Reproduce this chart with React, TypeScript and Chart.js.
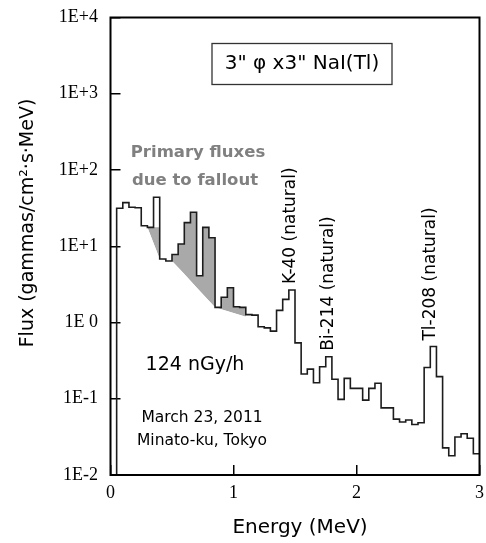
import { useEffect, useRef } from 'react';
import { Chart, registerables } from 'chart.js';

Chart.register(...registerables);

// Bin edges (MeV) of the measured spectrum
const energyEdges = [
  0.05, 0.1, 0.15, 0.2, 0.25, 0.3, 0.35, 0.4, 0.45, 0.5, 0.55, 0.6, 0.65, 0.7, 0.75, 0.8, 0.85, 0.9, 0.95, 1.0,
  1.05, 1.1, 1.15, 1.2, 1.25, 1.3, 1.35, 1.4, 1.45, 1.5, 1.55, 1.6, 1.65, 1.7, 1.75, 1.8, 1.85, 1.9, 1.95, 2.0,
  2.05, 2.1, 2.15, 2.2, 2.25, 2.3, 2.35, 2.4, 2.45, 2.5, 2.55, 2.6, 2.65, 2.7, 2.75, 2.8, 2.85, 2.9, 2.95, 3.0,
];

// Flux per bin (gammas/cm2·s·MeV)
const fluxValues = [
  31.5, 37.3, 32.4, 32.0, 18.6, 17.7, 43.9, 6.8, 6.4, 7.8,
  10.7, 20.4, 27.9, 4.1, 17.7, 12.9, 1.58, 2.14, 2.86, 1.61,
  1.58, 1.27, 1.25, 0.88, 0.85, 0.77, 1.44, 2.01, 2.67, 0.54,
  0.211, 0.245, 0.162, 0.263, 0.356, 0.18, 0.098, 0.185, 0.137, 0.137,
  0.096, 0.137, 0.16, 0.076, 0.076, 0.054, 0.0496, 0.0526, 0.046, 0.0485,
  0.257, 0.484, 0.195, 0.0227, 0.0179, 0.0315, 0.0348, 0.0303, 0.019,
];

// Upper edge of the shaded "primary fluxes due to fallout" region
const fallbackEdges = [0.3, 0.35, 0.4, 0.45, 0.5, 0.55, 0.6, 0.65, 0.7, 0.75, 0.8, 0.85, 0.9, 0.95, 1.0, 1.05, 1.1];
const fallbackTop = [17.7, 17.7, 6.8, 6.4, 7.8, 10.7, 20.4, 27.9, 4.1, 17.7, 12.9, 1.58, 2.14, 2.86, 1.61, 1.58];

// Lower edge (natural continuum) of the shaded region
const continuumEnergy = [0.3, 0.4, 0.5, 0.6, 0.7, 0.8, 0.85, 0.9, 1.0, 1.1];
const continuumFlux = [17.7, 6.8, 6.4, 4.31, 2.88, 1.93, 1.58, 1.49, 1.33, 1.19];

const yTickValues = [0.01, 0.1, 1, 10, 100, 1000, 10000];
const yTickLabels = ['1E-2', '1E-1', '1E 0', '1E+1', '1E+2', '1E+3', '1E+4'];
const xTickValues = [0, 1, 2, 3];
const xTickLabels = ['0', '1', '2', '3'];

const peakLabels = ['K-40 (natural)', 'Bi-214 (natural)', 'Tl-208 (natural)'];
const peakEnergies = [1.462, 1.775, 2.606];
const peakFlux = [2.67, 0.356, 0.484];

const SANS = '"DejaVu Sans", sans-serif';
const SERIF = '"Liberation Serif", serif';

function stepPoints(edges: number[], values: number[], base?: number) {
  const pts: { x: number; y: number }[] = [];
  if (base !== undefined) pts.push({ x: edges[0], y: base });
  values.forEach((v, i) => pts.push({ x: edges[i], y: v }));
  pts.push({ x: edges[edges.length - 1], y: values[values.length - 1] });
  return pts;
}

const annotationPlugin = {
  id: 'spectrumAnnotations',
  afterDraw(chart: any) {
    const { ctx, chartArea: a, scales } = chart;
    const xs = scales.x;
    const ys = scales.y;
    ctx.save();
    // plot frame
    ctx.strokeStyle = '#000';
    ctx.lineWidth = 2;
    ctx.strokeRect(a.left, a.top, a.right - a.left, a.bottom - a.top);

    // detector box
    ctx.strokeStyle = '#333';
    ctx.lineWidth = 1.3;
    ctx.strokeRect(212, 43.5, 180, 41);
    ctx.fillStyle = '#000';
    ctx.textAlign = 'center';
    ctx.textBaseline = 'middle';
    ctx.font = `20px ${SANS}`;
    ctx.fillText('3" \u03c6 x3" NaI(Tl)', 302, 64);

    // fallout caption
    ctx.fillStyle = '#808080';
    ctx.font = `bold 16.5px ${SANS}`;
    ctx.textBaseline = 'alphabetic';
    ctx.fillText('Primary fluxes', 198, 157);
    ctx.fillText('due to fallout', 195, 185);

    // dose rate & place
    ctx.fillStyle = '#000';
    ctx.textBaseline = 'middle';
    ctx.font = `19px ${SANS}`;
    ctx.fillText('124 nGy/h', 195, 365);
    ctx.font = `15.5px ${SANS}`;
    ctx.fillText('March 23, 2011', 202, 418);
    ctx.fillText('Minato-ku, Tokyo', 202, 441);

    // peak labels
    ctx.font = `17px ${SANS}`;
    ctx.textAlign = 'left';
    peakLabels.forEach((t, i) => {
      const px = xs.getPixelForValue(peakEnergies[i]);
      const py = ys.getPixelForValue(peakFlux[i]) - 6;
      ctx.save();
      ctx.translate(px, py);
      ctx.rotate(-Math.PI / 2);
      ctx.fillText(t, 0, 0);
      ctx.restore();
    });

    // axis titles
    ctx.textAlign = 'center';
    ctx.font = `20px ${SANS}`;
    ctx.fillText('Energy (MeV)', 300, 528);
    ctx.save();
    ctx.translate(28, 223);
    ctx.rotate(-Math.PI / 2);
    ctx.font = `19px ${SANS}`;
    ctx.fillText('Flux (gammas/cm\u00b2\u00b7s\u00b7MeV)', 0, 0);
    ctx.restore();

    ctx.restore();
  },
};

export default function App() {
  const ref = useRef<HTMLCanvasElement>(null);

  useEffect(() => {
    if (!ref.current) return;
    const chart = new Chart(ref.current, {
      type: 'line',
      data: {
        datasets: [
          {
            label: 'Flux',
            data: stepPoints(energyEdges, fluxValues, 0.01),
            stepped: true,
            borderColor: '#1c1c1c',
            borderWidth: 1.6,
            pointRadius: 0,
            fill: false,
            order: 0,
          },
          {
            label: 'Fallout',
            data: stepPoints(fallbackEdges, fallbackTop),
            stepped: true,
            borderColor: 'rgba(0,0,0,0)',
            borderWidth: 1,
            pointRadius: 0,
            backgroundColor: '#a9a9a9',
            fill: { target: 2, above: '#a9a9a9', below: 'rgba(0,0,0,0)' },
            order: 1,
          },
          {
            label: 'Continuum',
            data: continuumEnergy.map((e, i) => ({ x: e, y: continuumFlux[i] })),
            borderColor: 'rgba(0,0,0,0)',
            borderWidth: 1,
            pointRadius: 0,
            fill: false,
            order: 2,
          },
        ],
      } as any,
      options: {
        animation: false,
        responsive: true,
        maintainAspectRatio: false,
        events: [],
        layout: { autoPadding: false, padding: { left: 0, right: 6.5, top: 17.5, bottom: 0 } },
        plugins: { legend: { display: false }, tooltip: { enabled: false }, title: { display: false } },
        scales: {
          x: {
            type: 'linear',
            min: 0,
            max: 3,
            afterBuildTicks: (s: any) => {
              s.ticks = xTickValues.map((v) => ({ value: v }));
            },
            afterFit: (s: any) => {
              s.height = 68;
              s.paddingLeft = 0;
              s.paddingRight = 0;
            },
            ticks: {
              color: '#000',
              padding: 17,
              maxRotation: 0,
              font: { family: SERIF, size: 18 },
              callback: (_v: any, i: number) => xTickLabels[i],
            },
            grid: { drawOnChartArea: false, drawTicks: true, tickLength: -10, color: '#000', lineWidth: 1.5 },
            border: { display: false },
          },
          y: {
            type: 'logarithmic',
            min: 0.01,
            max: 10000,
            afterBuildTicks: (s: any) => {
              s.ticks = yTickValues.map((v) => ({ value: v }));
            },
            afterFit: (s: any) => {
              s.width = 110.5;
              s.paddingTop = 0;
              s.paddingBottom = 0;
            },
            ticks: {
              color: '#000',
              padding: 22.5,
              font: { family: SERIF, size: 18 },
              callback: (_v: any, i: number) => yTickLabels[i],
            },
            grid: { drawOnChartArea: false, drawTicks: true, tickLength: -10, color: '#000', lineWidth: 1.5 },
            border: { display: false },
          },
        },
      } as any,
      plugins: [annotationPlugin],
    });
    return () => chart.destroy();
  }, []);

  return (
    <div style={{ position: 'absolute', left: 0, top: 0, width: 486, height: 543, background: '#fff' }}>
      <canvas ref={ref} />
    </div>
  );
}
